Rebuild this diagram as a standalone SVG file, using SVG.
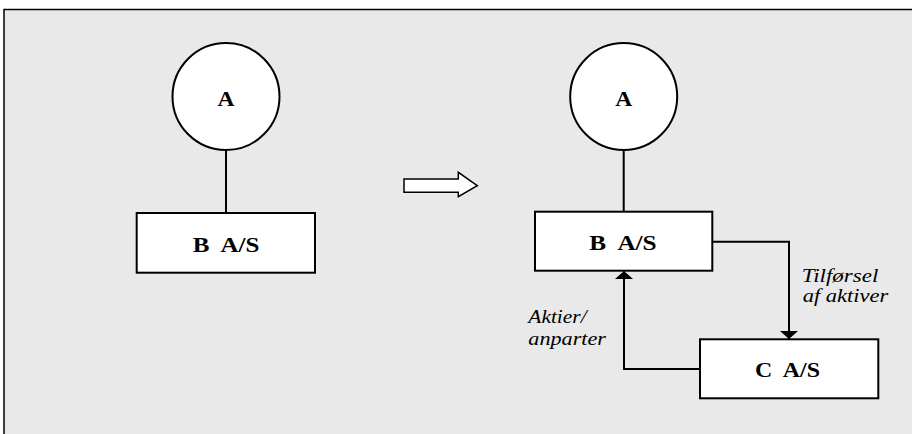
<svg xmlns="http://www.w3.org/2000/svg" width="912" height="434" viewBox="0 0 912 434">
  <style>
    .shape { fill: #ffffff; stroke: #000000; stroke-width: 2; }
    .wire { fill: none; stroke: #000000; stroke-width: 2; }
  </style>
  <defs>
    <!-- short, wide filled arrowhead -->
    <marker id="head" viewBox="0 0 8 18" refX="8" refY="9" markerWidth="8" markerHeight="18" markerUnits="userSpaceOnUse" orient="auto">
      <path d="M0,0 L8,9 L0,18 Z" fill="#000000"/>
    </marker>
  </defs>

  <!-- background panel -->
  <rect x="4" y="9.5" width="920" height="440" fill="#e9e9e9" stroke="#000000" stroke-width="1.5"/>

  <!-- connectors -->
  <g id="connectors">
    <line class="wire" x1="226" y1="150" x2="226" y2="213"/>
    <line class="wire" x1="623.7" y1="150" x2="623.7" y2="211.7"/>
    <polyline class="wire" points="712.3,241.7 789,241.7 789,339" marker-end="url(#head)"/>
    <polyline class="wire" points="700,369 624,369 624,271" marker-end="url(#head)"/>
    <!-- hollow transition arrow -->
    <path d="M404,179 L458.3,179 L458.3,172.3 L477.3,185.6 L458.3,196.7 L458.3,192.3 L404,192.3 Z" fill="#ffffff" stroke="#000000" stroke-width="1.5" stroke-linejoin="miter"/>
  </g>

  <!-- entity names: bold serif -->
  <g font-family="'Liberation Serif', Tinos, 'Times New Roman', Times, 'Nimbus Roman', serif" font-weight="bold" font-size="20" text-anchor="middle" fill="#000000">
    <g id="left-A">
      <circle class="shape" cx="226" cy="96.5" r="53.5"/>
      <text x="226" y="105.7" textLength="17" lengthAdjust="spacingAndGlyphs">A</text>
    </g>
    <g id="left-B">
      <rect class="shape" x="136.7" y="213" width="178.3" height="59.7"/>
      <text x="226" y="252.3" textLength="66.7" lengthAdjust="spacingAndGlyphs" xml:space="preserve">B  A/S</text>
    </g>
    <g id="right-A">
      <circle class="shape" cx="623.7" cy="96.5" r="53.5"/>
      <text x="623.7" y="105.7" textLength="17" lengthAdjust="spacingAndGlyphs">A</text>
    </g>
    <g id="right-B">
      <rect class="shape" x="535" y="211.7" width="177.3" height="59"/>
      <text x="623" y="250" textLength="67.3" lengthAdjust="spacingAndGlyphs" xml:space="preserve">B  A/S</text>
    </g>
    <g id="right-C">
      <rect class="shape" x="700" y="339.3" width="178.3" height="59"/>
      <text x="787.5" y="376.7" textLength="65" lengthAdjust="spacingAndGlyphs" xml:space="preserve">C  A/S</text>
    </g>
  </g>

  <!-- flow labels: italic serif -->
  <g font-family="'Liberation Serif', Tinos, 'Times New Roman', Times, 'Nimbus Roman', serif" font-style="italic" font-size="18.5" fill="#000000">
    <g id="label-tilfoersel">
      <text x="801.7" y="281.7" textLength="76.7" lengthAdjust="spacingAndGlyphs">Tilførsel</text>
      <text x="802.7" y="301.7" textLength="85.7" lengthAdjust="spacingAndGlyphs">af aktiver</text>
    </g>
    <g id="label-aktier">
      <text x="528.3" y="323.3" textLength="58.3" lengthAdjust="spacingAndGlyphs">Aktier/</text>
      <text x="528.3" y="345" textLength="77.7" lengthAdjust="spacingAndGlyphs">anparter</text>
    </g>
  </g>
</svg>
